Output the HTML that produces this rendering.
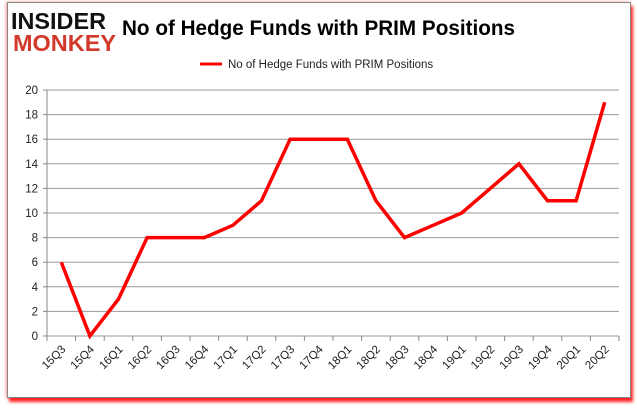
<!DOCTYPE html>
<html><head><meta charset="utf-8"><style>
body{margin:0;background:#fff;width:637px;height:408px;overflow:hidden;font-family:"Liberation Sans",sans-serif}
#frame{position:absolute;left:7px;top:2px;width:622px;height:394px;border:1px solid #888;background:#fff;box-shadow:2px 4px 3px #f22, -1px 0 3px #f99}
</style></head><body>
<div id="frame"></div>
<svg width="637" height="408" style="position:absolute;left:0;top:0">
<g>
<text x="11" y="29" font-size="23" font-weight="bold" fill="#111" font-family="Liberation Sans" textLength="95" lengthAdjust="spacingAndGlyphs">INSIDER</text>
<text x="13" y="51" font-size="23" font-weight="bold" fill="#d3392b" font-family="Liberation Sans" textLength="103" lengthAdjust="spacingAndGlyphs">MONKEY</text>
</g>
<text x="122" y="35" font-size="21" font-weight="bold" fill="#000" textLength="393" lengthAdjust="spacingAndGlyphs">No of Hedge Funds with PRIM Positions</text>
<g>
<line x1="200" y1="64" x2="222" y2="64" stroke="red" stroke-width="3"/>
<text x="228" y="68" font-size="11.5" fill="#222">No of Hedge Funds with PRIM Positions</text>
</g>
<g id="grid"></g><g id="axes"></g><g id="series"></g>
</svg>
<script>
const categories=["15Q3","15Q4","16Q1","16Q2","16Q3","16Q4","17Q1","17Q2","17Q3","17Q4","18Q1","18Q2","18Q3","18Q4","19Q1","19Q2","19Q3","19Q4","20Q1","20Q2"];
const values=[6,0,3,8,8,8,9,11,16,16,16,11,8,9,10,12,14,11,11,19];
const yTicks=[0,2,4,6,8,10,12,14,16,18,20];
const NS="http://www.w3.org/2000/svg";
const L=47,R=619,T=90,B=336;
const bw=(R-L)/categories.length;
function x(i){return L+bw*(i+0.5);}
function y(v){return B-(v/20)*(B-T);}
function mk(tag,attrs,parent){const e=document.createElementNS(NS,tag);for(const k in attrs)e.setAttribute(k,attrs[k]);parent.appendChild(e);return e;}
const grid=document.getElementById('grid'),axes=document.getElementById('axes'),series=document.getElementById('series');
yTicks.forEach(t=>{
 const g=mk('line',{x1:L,x2:R,y1:y(t),y2:y(t),stroke:'#999','stroke-width':1},grid);
 
 
 mk('line',{x1:L-4,x2:L,y1:y(t),y2:y(t),stroke:'#888'},axes);
 const tx=mk('text',{x:L-9,y:y(t)+4,'font-size':11.5,'text-anchor':'end',fill:'#222'},axes);
 tx.textContent=t;
 
 
});
mk('line',{x1:L,x2:L,y1:T,y2:B,stroke:'#888'},axes);
categories.forEach((c,i)=>{
 const xl=L+bw*i;
 mk('line',{x1:xl,x2:xl,y1:B,y2:B+5,stroke:'#888'},axes);
 const tx=mk('text',{x:x(i)+5,y:B+14,'font-size':11.5,'text-anchor':'end',fill:'#222',transform:`rotate(-45 ${x(i)+5} ${B+14})`},axes);
 tx.textContent=c;
 
 
});
mk('line',{x1:R,x2:R,y1:B,y2:B+5,stroke:'#888'},axes);
const p=mk('polyline',{points:values.map((v,i)=>x(i)+','+y(v)).join(' '),fill:'none',stroke:'#f00','stroke-width':3.5,'stroke-linejoin':'miter'},series);


</script>
</body></html>
